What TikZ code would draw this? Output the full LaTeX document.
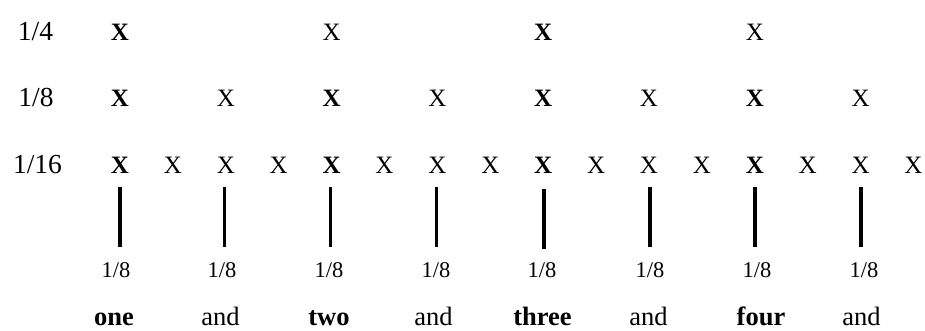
\documentclass[tikz,border=0pt]{standalone}
\usepackage{fontspec}
\setmainfont{Liberation Serif}
\begin{document}
\begin{tikzpicture}[x=1pt,y=-1pt,
  xmk/.style={anchor=base,inner sep=0pt,font=\fontsize{25}{30}\selectfont},
  xbold/.style={anchor=base,inner sep=0pt,font=\fontsize{25}{30}\selectfont\bfseries},
  rowlab/.style={anchor=base,inner sep=0pt,font=\fontsize{27.5}{32}\selectfont},
  beatlab/.style={anchor=base,inner sep=0pt,font=\fontsize{22.5}{26}\selectfont},
  word/.style={anchor=base,inner sep=0pt,text depth=0pt,font=\fontsize{26.5}{31}\selectfont},
  wordb/.style={anchor=base,inner sep=0pt,text depth=0pt,font=\fontsize{26.5}{31}\selectfont\bfseries},
  bar/.style={line width=3.2pt}]
\useasboundingbox (0,0) rectangle (925,330);
% row labels
\node[rowlab] (l4) at (35.5,40) {1/4};
\node[rowlab] (l8) at (36,106.5) {1/8};
\node[rowlab] (l16) at (37.5,173) {1/16};
% 1/4 row
\node[xbold] (q0) at (120,40) {X};
\node[xmk] (q4) at ({120+52.9*4},40) {X};
\node[xbold] (q8) at ({120+52.9*8},40) {X};
\node[xmk] (q12) at ({120+52.9*12},40) {X};
% 1/8 row
\foreach \i in {0,2,...,14}{
  \pgfmathtruncatemacro\r{mod(\i,4)}
  \ifnum\r=0
    \node[xbold] (e\i) at ({120+52.9*\i},106.5) {X};
  \else
    \node[xmk] (e\i) at ({120+52.9*\i},106.5) {X};
  \fi
}
% 1/16 row
\foreach \i in {0,...,15}{
  \pgfmathtruncatemacro\r{mod(\i,4)}
  \ifnum\r=0
    \node[xbold] (s\i) at ({120+52.9*\i},173) {X};
  \else
    \node[xmk] (s\i) at ({120+52.9*\i},173) {X};
  \fi
}
% bars and 1/8 labels
\foreach \k/\bx/\lx/\ty in {0/120/116/187,1/224.5/222/187,2/330.5/329/187,3/436.5/436/187,4/544/542/189,5/650/650/187,6/755/757/187,7/861/864/187}{
  \coordinate (t\k) at (\bx,\ty);
  \coordinate (b\k) at (\bx,{\ty+60});
  \draw[bar] (t\k) -- (b\k);
  \node[beatlab] (n\k) at (\lx,277) {1/8};
}
% counting words
\node[wordb] (w0) at (114,325) {one};
\node[word]  (w1) at (220.5,325) {and};
\node[wordb] (w2) at (329,325) {two};
\node[word]  (w3) at (433.5,325) {and};
\node[wordb] (w4) at (542.5,325) {three};
\node[word]  (w5) at (648.5,325) {and};
\node[wordb] (w6) at (761,325) {four};
\node[word]  (w7) at (861.5,325) {and};
\end{tikzpicture}
\end{document}
